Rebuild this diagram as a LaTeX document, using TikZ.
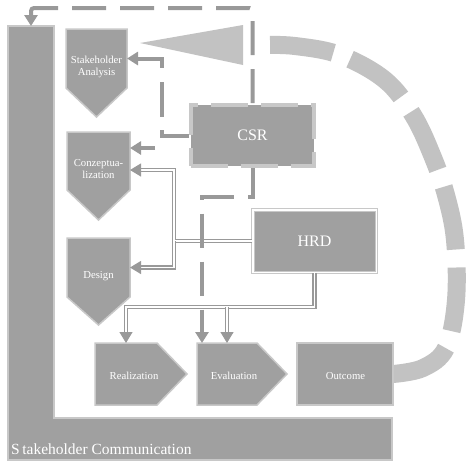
\documentclass[tikz,border=0pt]{standalone}
\usepackage{fontspec}
\setmainfont{Liberation Serif}
\newfontfamily\timesf{Liberation Serif}
\usetikzlibrary{arrows.meta,calc}
\definecolor{boxfill}{HTML}{A0A0A0}
\definecolor{edgegray}{HTML}{C8C8C8}
\definecolor{linegray}{HTML}{999999}
\definecolor{curvegray}{HTML}{C2C2C2}
\begin{document}
\begin{tikzpicture}[x=1pt,y=-1pt,
  body/.style={inner sep=0pt,outer sep=0pt},
  shapebox/.style={fill=boxfill,draw=edgegray,line width=1.5pt,line join=miter},
  txt/.style={text=white,font=\timesf\fontsize{10.7}{12.5}\selectfont,align=center,inner sep=0pt},
  bigtxt/.style={text=white,font=\timesf\fontsize{16}{18}\selectfont,inner sep=0pt},
  dl/.style={draw=linegray,line width=4pt,dash pattern=on 34pt off 14pt},
  tipa/.style={-{Triangle[length=11pt,width=13pt]}},
  dbl/.style={draw=linegray,line width=1.2pt,double=white,double distance=1.8pt},
  curve/.style={draw=curvegray,line width=18pt,dash pattern=on 64pt off 18pt,dash phase=74pt}]
\useasboundingbox (0,0) rectangle (474,467);
% Stakeholder communication L-shape
\draw[fill=boxfill,draw=edgegray,line width=1.2pt] (8,26) -- (54,26) -- (54,418) -- (392,418) -- (392,460) -- (8,460) -- cycle;
\coordinate (sctop) at (31,26);
\node[text=white,font=\timesf\fontsize{15.5}{18}\selectfont,anchor=base west,inner sep=0pt] (sc) at (11,454) {S\hspace{2.5pt}takeholder Communication};
% body nodes
\node[body,minimum width=61pt,minimum height=59pt] (sa) at (96.5,58.5) {};
\node[body,minimum width=63pt,minimum height=58pt] (conz) at (98.5,161) {};
\node[body,minimum width=63pt,minimum height=59pt] (design) at (98.5,267.5) {};
\node[body,minimum width=62pt,minimum height=62pt] (re) at (126,374) {};
\node[body,minimum width=60pt,minimum height=62pt] (ev) at (227,374) {};
\node[body,minimum width=96pt,minimum height=62pt] (out) at (345,374) {};
% big curved dashed arrow
\coordinate (arrbase) at (262,45);
\draw[curve] plot[smooth,tension=0.6] coordinates {(arrbase) (295,46) (340,55) (385,80) (413,115) (432,155) (446,195) (455,240) (456,300) (446,348) (423,368) (out.east)};
\fill[curvegray] (243,25) -- (243,65) -- (140,43) -- cycle;
% shapes
\draw[shapebox] (sa.north west) -- (sa.north east) -- (sa.south east) -- ($(sa.south)+(0,29)$) -- (sa.south west) -- cycle;
\draw[shapebox] (conz.north west) -- (conz.north east) -- (conz.south east) -- ($(conz.south)+(0,30)$) -- (conz.south west) -- cycle;
\draw[shapebox] (design.north west) -- (design.north east) -- (design.south east) -- ($(design.south)+(0,28)$) -- (design.south west) -- cycle;
\draw[shapebox] (re.north west) -- (re.north east) -- ($(re.east)+(30,0)$) -- (re.south east) -- (re.south west) -- cycle;
\draw[shapebox] (ev.north west) -- (ev.north east) -- ($(ev.east)+(30,0)$) -- (ev.south east) -- (ev.south west) -- cycle;
\draw[shapebox] (out.north west) rectangle (out.south east);
\node[txt] (saT) at (96.5,67) {Stakeholder\\Analysis};
\node[txt] (czT) at (98.5,169) {Conzeptua-\\lization};
\node[txt] (dsT) at (98.5,276) {Design};
\node[txt] (reT) at (134,376) {Realization};
\node[txt] (evT) at (234,376) {Evaluation};
\node[txt] (ouT) at (345.5,376) {Outcome};
% CSR and HRD
\node[draw=edgegray,fill=boxfill,line width=4pt,dash pattern=on 37pt off 13pt,minimum width=123pt,minimum height=61pt,bigtxt] (csr) at (252.5,135.5) {CSR};
\node[draw=edgegray,double=white,double distance=1.5pt,line width=1pt,fill=boxfill,minimum width=123.5pt,minimum height=62.5pt,bigtxt] (hrd) at (314.5,241) {HRD};
% HRD connectors (double lines)
\coordinate (hj) at (174,241);
\coordinate (cz2) at ($(conz.east)+(0,9)$);
\coordinate (hb) at ($(hrd.south)+(0,34)$);
\draw[dbl,tipa] (hrd.west) -- (hj) |- (cz2);
\draw[dbl,tipa] (hj) |- (design.east);
\draw[dbl,tipa] (hrd.south) -- (hb) -| (re.north);
\draw[dbl,tipa] (ev.north |- hb) -- (ev.north);
% CSR connectors (dashed)
\coordinate (c2) at (162,135.5);
\coordinate (c3a) at (189,148);
\coordinate (evA) at ($(ev.north west)+(5,0)$);
\draw[dl,tipa,rounded corners=3pt] (csr.north) -- ++(0,-95) -| (sctop);
\draw[dl,tipa,dash pattern=on 33pt off 13pt on 35pt off 14pt] (csr.west) -- (c2) |- (sa.east);
\draw[dl,tipa,dash pattern=on 0pt off 34pt on 40pt] (c3a) -- (conz.east |- c3a);
\draw[dl,tipa] (csr.south) -- ++(0,29) -| (evA);
\end{tikzpicture}
\end{document}
